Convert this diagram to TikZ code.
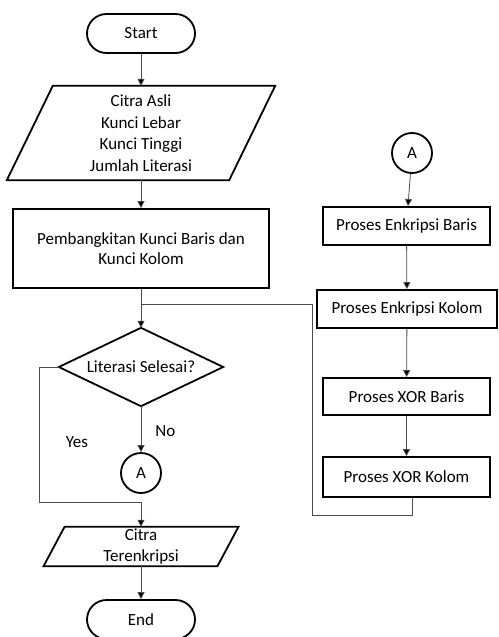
\documentclass[tikz,border=0pt]{standalone}
\usepackage{fontspec}
\setmainfont{Carlito}
\usetikzlibrary{arrows.meta}
\tikzset{
  base/.style={font=\fontsize{17}{21.5}\selectfont, align=center, inner sep=0pt},
  term/.style={base, draw, line width=1.8pt, rounded corners=19.5pt, minimum width=108pt, minimum height=39pt},
  procbox/.style={base, draw, line width=1.8pt},
  iobox/.style={base},
  conn/.style={base, draw, circle, line width=1.8pt, minimum size=40pt},
  decbox/.style={base},
  flow/.style={draw=black!70, line width=0.8pt},
  arr/.style={flow, -{Triangle[length=7pt,width=7pt,fill=black]}},
  lbl/.style={font=\fontsize{17}{20}\selectfont, inner sep=0pt},
  pshape/.style={draw, line width=1.8pt, line join=miter}
}
\begin{document}
\begin{tikzpicture}[x=1pt,y=-1pt]
\useasboundingbox (0,0) rectangle (498,637);
% left column
\node[term] (start) at (141,33.5) {Start};
\node[iobox, minimum width=222pt, minimum height=94pt] (in) at (141,133) {Citra Asli\\Kunci Lebar\\Kunci Tinggi\\Jumlah Literasi};
\draw[pshape] ([xshift=23pt]in.north west) -- ([xshift=23pt]in.north east) -- ([xshift=-23pt]in.south east) -- ([xshift=-23pt]in.south west) -- cycle;
\node[procbox, minimum width=256pt, minimum height=79pt, font=\fontsize{17}{19.5}\selectfont] (gen) at (141,248.5) {Pembangkitan Kunci Baris dan\\Kunci Kolom};
\node[decbox, minimum width=164pt, minimum height=78pt] (dec) at (141,367) {Literasi Selesai?};
\draw[pshape] (dec.north) -- (dec.east) -- (dec.south) -- (dec.west) -- cycle;
\node[conn] (ca) at (141,473) {A};
\node[iobox, minimum width=173.5pt, minimum height=39pt] (out) at (141,546.5) {Citra\\Terenkripsi};
\draw[pshape] ([xshift=10.5pt]out.north west) -- ([xshift=10.5pt]out.north east) -- ([xshift=-10.5pt]out.south east) -- ([xshift=-10.5pt]out.south west) -- cycle;
\node[term] (end) at (141,619.5) {End};
% right column
\node[conn] (cb) at (412,153) {A};
\node[procbox, minimum width=167pt, minimum height=38pt] (p1) at (406.5,226) {Proses Enkripsi Baris};
\node[procbox, minimum width=180pt, minimum height=38pt] (p2) at (407,309) {Proses Enkripsi Kolom};
\node[procbox, minimum width=167pt, minimum height=37pt] (p3) at (406.5,396.5) {Proses XOR Baris};
\node[procbox, minimum width=167pt, minimum height=40pt] (p4) at (406.5,477) {Proses XOR Kolom};
% connectors
\draw[arr] (start) -- (in);
\draw[arr] (in) -- (gen);
\draw[arr] (gen) -- (dec);
\draw[arr] (dec) -- node[lbl, pos=0.55, right=14pt] {No} (ca);
\coordinate (yl) at (39,367);
\coordinate (yb) at (39,502);
\draw[arr] (dec.west) -- (yl) -- (yb) -- (yb -| out.north) -- (out.north);
\node[lbl] (yes) at (77,442) {Yes};
\draw[arr] (out) -- (end);
\draw[arr] (cb) -- (p1);
\draw[arr] (p1) -- (p2);
\draw[arr] (p2) -- (p3);
\draw[arr] (p3) -- (p4);
\coordinate (lb) at (412,515);
\coordinate (lc) at (312,515);
\coordinate (ld) at (312,304);
\coordinate (le) at (141,304);
\draw[flow] (p4.south -| lb) -- (lb) -- (lc) -- (ld) -- (le);
\end{tikzpicture}
\end{document}
